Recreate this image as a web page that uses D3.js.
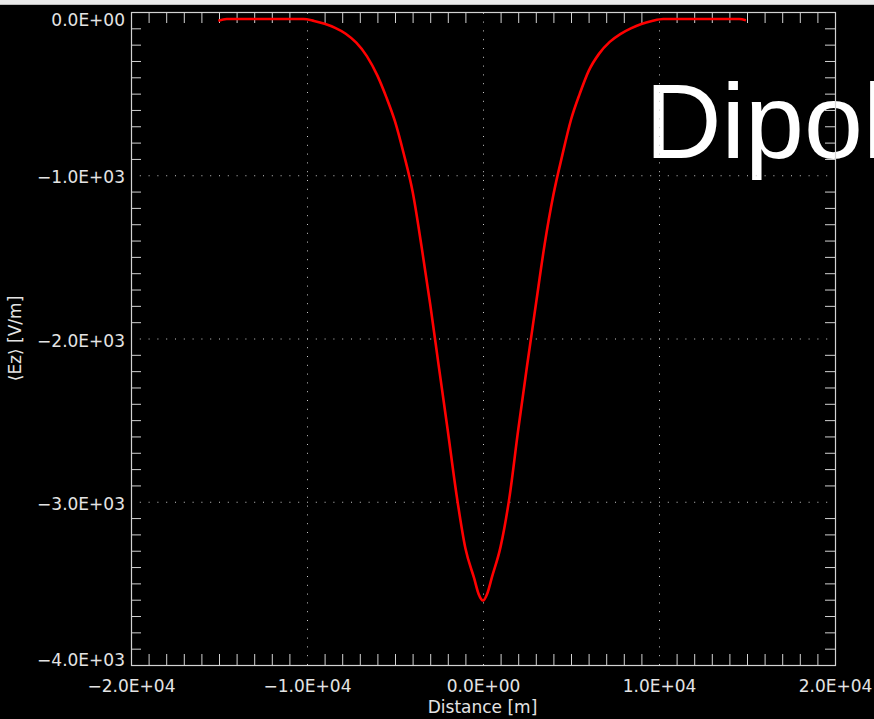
<!DOCTYPE html>
<html>
<head>
<meta charset="utf-8">
<script src="https://cdn.jsdelivr.net/npm/d3@7"></script>
<style>
  html, body { margin: 0; padding: 0; background: #000; }
  svg { display: block; }
</style>
</head>
<body>
<script>
// ---- data ----
const distance = [-15040,-14560,-10200,-9600,-9000,-8400,-7800,-7200,-6600,-6000,
  -5500,-5000,-4500,-4000,-3500,-3000,-2500,-2000,-1500,-1000,
  -500,-250,0,250,500,1000,1500,2000,2500,3000,
  3500,4000,4500,5000,5500,6000,6600,7200,7800,8400,
  9000,9600,10240,14560,14940];
const ez = [-53,-43,-43,-55,-72,-97,-133,-188,-270,-390,
  -520,-670,-870,-1100,-1430,-1790,-2180,-2565,-2960,-3285,
  -3470,-3565,-3605,-3560,-3465,-3275,-2975,-2560,-2170,-1795,
  -1425,-1120,-880,-660,-500,-362,-255,-183,-135,-100,
  -73,-55,-43,-43,-50];
const xTickValues = [-20000,-10000,0,10000,20000];
const yTickValues = [0,-1000,-2000,-3000,-4000];
const xGridValues = [-10000,0,10000];
const yGridValues = [-1000,-2000,-3000];
const xMinorStep = 1000;
const yMinorStep = 100;
const xTitle = "Distance [m]";
const yTitle = "⟨Ez⟩ [V/m]";
const overlayText = "Dipole";

// ---- layout ----
const W = 874, H = 719;
const L = 131, R = 835, T = 12, B = 665;
const labelFont = "'DejaVu Sans', sans-serif";
const frameColor = "#d2d2d2";

const svg = d3.select("body").append("svg").attr("width", W).attr("height", H);
svg.append("rect").attr("width", W).attr("height", H).attr("fill", "#000");
svg.append("rect").attr("width", W).attr("height", 4).attr("fill", "#e9e9e9");
svg.append("rect").attr("y", 4).attr("width", W).attr("height", 1).attr("fill", "#bdbdbd");

const x = d3.scaleLinear().domain([-20000, 20000]).range([L, R]);
const y = d3.scaleLinear().domain([-4000, 0]).range([B, T]);

// big overlay text (drawn under the axes)
svg.append("text")
  .attr("x", 645).attr("y", 158)
  .attr("font-family", "'Liberation Sans', Arial, sans-serif")
  .attr("font-size", 106)
  .attr("fill", "#fff")
  .text(overlayText);

function fmt(d) {
  if (d === 0) return "0.0E+00";
  const e = Math.floor(Math.log10(Math.abs(d)));
  const m = d / Math.pow(10, e);
  return (m < 0 ? "\u2212" : "") + Math.abs(m).toFixed(1) + "E+" + String(e).padStart(2, "0");
}

const minorX = d3.range(-20000, 20001, xMinorStep).filter(v => v % 10000 !== 0);
const minorY = d3.range(-4000, 1, yMinorStep).filter(v => v % 1000 !== 0);

function styleAxis(g) {
  g.select(".domain").remove();
  g.selectAll(".tick line").attr("stroke", frameColor).attr("stroke-width", 1);
}

// grid (dotted)
const gx = svg.append("g").attr("transform", `translate(0,${B})`)
  .call(d3.axisBottom(x).tickValues(xGridValues).tickSize(-(B - T)).tickFormat(""));
gx.select(".domain").remove();
gx.selectAll(".tick line").attr("stroke", "#c8c8c8").attr("stroke-dasharray", "1,7.8");
const gy = svg.append("g").attr("transform", `translate(${L},0)`)
  .call(d3.axisLeft(y).tickValues(yGridValues).tickSize(-(R - L)).tickFormat(""));
gy.select(".domain").remove();
gy.selectAll(".tick line").attr("stroke", "#c8c8c8").attr("stroke-dasharray", "1,7.8");

// minor ticks on all four sides
svg.append("g").attr("transform", `translate(0,${B})`)
  .call(d3.axisBottom(x).tickValues(minorX).tickSize(-11).tickFormat("")).call(styleAxis);
svg.append("g").attr("transform", `translate(0,${T})`)
  .call(d3.axisTop(x).tickValues(minorX).tickSize(-11).tickFormat("")).call(styleAxis);
svg.append("g").attr("transform", `translate(${L},0)`)
  .call(d3.axisLeft(y).tickValues(minorY).tickSize(-10).tickFormat("")).call(styleAxis);
svg.append("g").attr("transform", `translate(${R},0)`)
  .call(d3.axisRight(y).tickValues(minorY).tickSize(-10).tickFormat("")).call(styleAxis);

// frame
svg.append("rect")
  .attr("x", L + 0.5).attr("y", T + 0.5)
  .attr("width", R - L).attr("height", B - T)
  .attr("fill", "none").attr("stroke", frameColor).attr("stroke-width", 1.2);

// tick labels
const xl = svg.append("g").attr("transform", `translate(0,${B})`)
  .call(d3.axisBottom(x).tickValues(xTickValues).tickSize(0).tickPadding(15).tickFormat(fmt));
xl.select(".domain").remove();
xl.selectAll("text").attr("font-family", labelFont).attr("font-size", 17).attr("fill", "#e4e4e4");

const yl = svg.append("g").attr("transform", `translate(${L},0)`)
  .call(d3.axisLeft(y).tickValues(yTickValues).tickSize(0).tickPadding(6).tickFormat(fmt));
yl.select(".domain").remove();
yl.selectAll("text").attr("font-family", labelFont).attr("font-size", 17).attr("fill", "#e4e4e4")
  .attr("dy", d => d === 0 ? "0.82em" : (d === -4000 ? "0.04em" : "0.45em"));

// axis titles
svg.append("text")
  .attr("x", (L + R) / 2 - 0.5).attr("y", 713)
  .attr("text-anchor", "middle")
  .attr("font-family", labelFont).attr("font-size", 17).attr("fill", "#e4e4e4")
  .text(xTitle);
svg.append("text")
  .attr("transform", `translate(21,${(T + B) / 2}) rotate(-90)`)
  .attr("text-anchor", "middle")
  .attr("font-family", labelFont).attr("font-size", 17).attr("fill", "#e4e4e4")
  .text(yTitle);

// curve
const pts = distance.map((d, i) => [d, ez[i]]);
svg.append("path")
  .datum(pts)
  .attr("fill", "none")
  .attr("stroke", "#ff0000")
  .attr("stroke-width", 2.6)
  .attr("stroke-linejoin", "round")
  .attr("d", d3.line().x(d => x(d[0])).y(d => y(d[1])).curve(d3.curveMonotoneX));
</script>
</body>
</html>
